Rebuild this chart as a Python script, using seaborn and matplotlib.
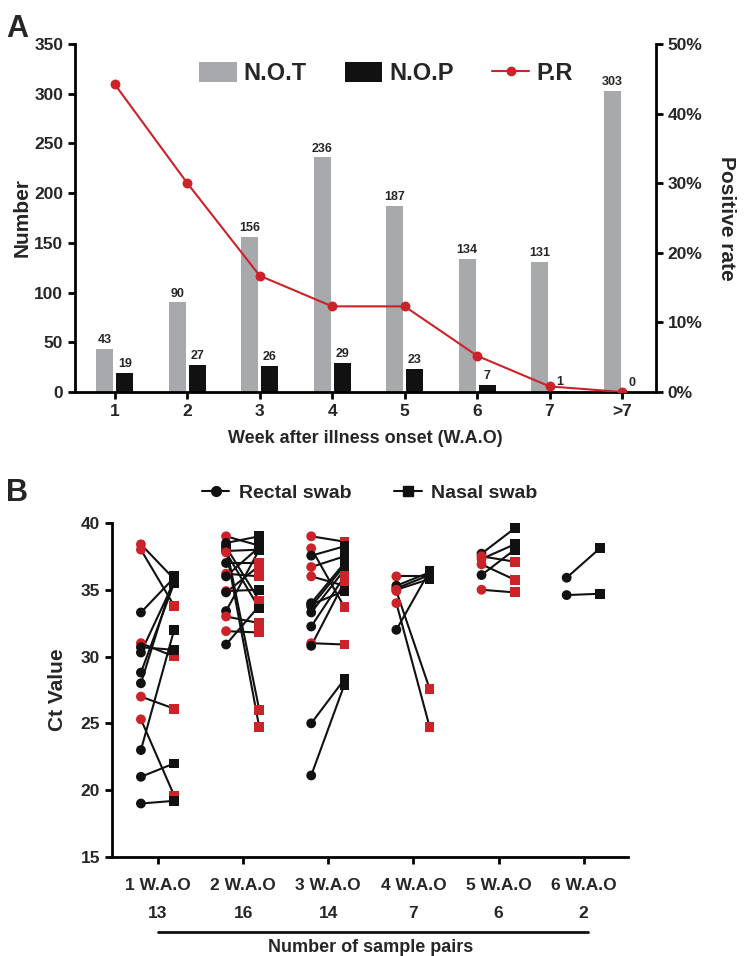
import numpy as np
import pandas as pd
import matplotlib
matplotlib.use("Agg")
import matplotlib.pyplot as plt
from matplotlib.patches import Patch
from matplotlib.lines import Line2D
from matplotlib.ticker import FuncFormatter
import seaborn as sns

# ---------------- Panel A data ----------------
weeks = ['1', '2', '3', '4', '5', '6', '7', '>7']
not_vals = [43, 90, 156, 236, 187, 134, 131, 303]
nop_vals = [19, 27, 26, 29, 23, 7, 1, 0]
pr_vals = [44.2, 30.0, 16.7, 12.3, 12.3, 5.2, 0.8, 0.0]

# ---------------- Panel B data ----------------
groups = ['1 W.A.O', '2 W.A.O', '3 W.A.O', '4 W.A.O', '5 W.A.O', '6 W.A.O']
pair_counts = [13, 16, 14, 7, 6, 2]

w1_rectal = [38.4, 38.0, 33.3, 31.0, 30.7, 30.3, 28.8, 28.0, 27.0, 25.3, 23.0, 21.0, 19.0]
w1_rectal_c = ['r', 'r', 'k', 'r', 'k', 'k', 'k', 'k', 'r', 'r', 'k', 'k', 'k']
w1_nasal = [35.8, 33.8, 35.9, 30.0, 30.5, 35.6, 35.5, 36.0, 26.1, 19.6, 32.0, 22.0, 19.2]
w1_nasal_c = ['k', 'r', 'k', 'r', 'k', 'k', 'k', 'k', 'r', 'r', 'k', 'k', 'k']

w2_rectal = [39.0, 38.5, 38.3, 38.0, 37.9, 37.0, 36.2, 36.0, 34.9, 34.8, 33.4, 33.0, 31.9, 30.9, 38.2, 37.8]
w2_rectal_c = ['r', 'k', 'k', 'r', 'k', 'k', 'r', 'k', 'r', 'k', 'k', 'r', 'r', 'k', 'k', 'r']
w2_nasal = [38.3, 39.0, 26.0, 24.7, 38.0, 37.0, 36.0, 38.2, 35.0, 36.8, 38.0, 32.5, 31.8, 33.8, 34.2, 33.6]
w2_nasal_c = ['k', 'k', 'r', 'r', 'k', 'r', 'r', 'k', 'k', 'r', 'k', 'r', 'r', 'k', 'r', 'k']

w3_rectal = [39.0, 38.1, 37.55, 36.7, 36.0, 34.0, 33.75, 33.3, 32.25, 31.0, 30.8, 25.0, 21.1, 33.9]
w3_rectal_c = ['r', 'r', 'k', 'r', 'r', 'k', 'k', 'k', 'k', 'r', 'k', 'k', 'k', 'k']
w3_nasal = [38.6, 33.7, 38.25, 37.5, 35.3, 37.0, 36.8, 36.5, 36.0, 30.9, 35.6, 28.3, 27.9, 34.9]
w3_nasal_c = ['r', 'r', 'k', 'k', 'r', 'k', 'k', 'k', 'r', 'r', 'r', 'k', 'k', 'k']

w4_rectal = [36.0, 35.3, 35.1, 34.9, 34.0, 32.0, 35.0]
w4_rectal_c = ['r', 'k', 'k', 'r', 'r', 'k', 'r']
w4_nasal = [36.0, 36.3, 36.1, 27.6, 24.75, 36.4, 35.8]
w4_nasal_c = ['k', 'k', 'k', 'r', 'r', 'k', 'k']

w5_rectal = [37.7, 37.3, 37.5, 36.9, 36.1, 35.0]
w5_rectal_c = ['k', 'r', 'r', 'r', 'k', 'r']
w5_nasal = [39.6, 38.4, 37.1, 35.75, 38.0, 34.8]
w5_nasal_c = ['k', 'k', 'r', 'r', 'k', 'r']

w6_rectal = [35.9, 34.6]
w6_rectal_c = ['k', 'k']
w6_nasal = [38.1, 34.7]
w6_nasal_c = ['k', 'k']

# ---------------- styling ----------------
sns.set_theme(style="ticks")
plt.rcParams['font.family'] = ['Liberation Sans', 'DejaVu Sans']
plt.rcParams['font.weight'] = 'bold'
plt.rcParams['axes.labelweight'] = 'bold'
NARROW = ['Liberation Sans Narrow', 'Liberation Sans', 'DejaVu Sans']
GRAY = '#a8a9ad'
BLACK = '#111111'
RED = '#cc2229'

fig = plt.figure(figsize=(7.49, 9.56), dpi=100)

# ================= Panel A =================
axA = fig.add_axes([0.1001, 0.590, 0.7758, 0.364])
dfA = pd.DataFrame({
    'week': weeks * 2,
    'value': not_vals + nop_vals,
    'series': ['N.O.T'] * len(weeks) + ['N.O.P'] * len(weeks),
})
sns.barplot(data=dfA, x='week', y='value', hue='series', order=weeks,
            hue_order=['N.O.T', 'N.O.P'], palette={'N.O.T': GRAY, 'N.O.P': BLACK},
            width=0.55, gap=0.15, saturation=1, legend=False, ax=axA,
            edgecolor='none')
for cont in axA.containers:
    axA.bar_label(cont, fontsize=9, fontweight='bold', padding=2,
                  family=NARROW)
axA.set_ylim(0, 350)
axA.set_yticks(range(0, 351, 50))
axA.set_xlim(-0.55, 7.47)
axA.set_ylabel('Number', fontsize=15, fontweight='bold', labelpad=2)
axA.set_xlabel('Week after illness onset (W.A.O)', fontsize=13, fontweight='bold', labelpad=8)

axR = axA.twinx()
dfP = pd.DataFrame({'week': weeks, 'pr': pr_vals})
sns.pointplot(data=dfP, x='week', y='pr', order=weeks, color=RED,
              markers='o', markersize=6, linewidth=1.5, ax=axR)
axR.set_ylim(0, 50)
axR.set_yticks(range(0, 51, 10))
axR.yaxis.set_major_formatter(FuncFormatter(lambda v, p: f'{int(v)}%'))
axR.set_xlim(-0.55, 7.47)
axR.set_ylabel('Positive rate', fontsize=15, fontweight='bold', rotation=-90, labelpad=24)

for ax in (axA, axR):
    for s in ['left', 'bottom', 'right']:
        ax.spines[s].set_linewidth(2)
        ax.spines[s].set_color('black')
    ax.spines['top'].set_visible(False)
    ax.tick_params(width=2, length=5, color='black', labelsize=12.5)
    for lab in ax.get_xticklabels() + ax.get_yticklabels():
        lab.set_fontfamily(NARROW)
        lab.set_fontweight('bold')
axA.spines['right'].set_visible(False)
axR.spines['left'].set_visible(False)
axR.spines['bottom'].set_visible(False)

handles = [Patch(facecolor=GRAY, edgecolor='none', label='N.O.T'),
           Patch(facecolor=BLACK, edgecolor='none', label='N.O.P'),
           Line2D([], [], color=RED, marker='o', markersize=6, lw=1.5, label='P.R')]
leg = axR.legend(handles=handles, loc='center', bbox_to_anchor=(0.535, 0.914), ncol=3,
                 frameon=False, handlelength=1.6, handleheight=0.9,
                 columnspacing=1.6, handletextpad=0.3,
                 prop={'family': NARROW, 'weight': 'bold', 'size': 17})

fig.text(0.008, 0.985, 'A', fontsize=22, fontweight='bold', va='top')

# ================= Panel B =================
axB = fig.add_axes([0.1495, 0.1036, 0.6889, 0.3494])
rows = []
pid = 0
wk_data = [(w1_rectal, w1_rectal_c, w1_nasal, w1_nasal_c),
           (w2_rectal, w2_rectal_c, w2_nasal, w2_nasal_c),
           (w3_rectal, w3_rectal_c, w3_nasal, w3_nasal_c),
           (w4_rectal, w4_rectal_c, w4_nasal, w4_nasal_c),
           (w5_rectal, w5_rectal_c, w5_nasal, w5_nasal_c),
           (w6_rectal, w6_rectal_c, w6_nasal, w6_nasal_c)]
for gi, (rv, rc, nv, nc) in enumerate(wk_data):
    for a, ca, b, cb in zip(rv, rc, nv, nc):
        rows.append({'pair': pid, 'x': gi - 0.2, 'ct': a, 'swab': 'Rectal swab', 'col': ca})
        rows.append({'pair': pid, 'x': gi + 0.19, 'ct': b, 'swab': 'Nasal swab', 'col': cb})
        pid += 1
dfB = pd.DataFrame(rows)

sns.lineplot(data=dfB, x='x', y='ct', units='pair', estimator=None, color=BLACK,
             lw=1.5, ax=axB, legend=False, sort=False)
sns.scatterplot(data=dfB, x='x', y='ct', hue='col', style='swab',
                palette={'k': BLACK, 'r': RED},
                markers={'Rectal swab': 'o', 'Nasal swab': 's'},
                s=50, linewidth=0, ax=axB, legend=False, zorder=3)

axB.set_ylim(15, 40)
axB.set_yticks(range(15, 41, 5))
axB.set_xlim(-0.54, 5.52)
axB.set_xticks(range(len(groups)))
axB.set_xticklabels(groups)
axB.set_xlabel('')
axB.set_ylabel('Ct Value', fontsize=15, fontweight='bold', labelpad=10)
sns.despine(ax=axB)
for s in ['left', 'bottom']:
    axB.spines[s].set_linewidth(2)
    axB.spines[s].set_color('black')
axB.tick_params(width=2, length=5, color='black', labelsize=12.5)
axB.tick_params(axis='x', pad=10)
for lab in axB.get_xticklabels() + axB.get_yticklabels():
    lab.set_fontfamily(NARROW)
    lab.set_fontweight('bold')

trans = axB.get_xaxis_transform()
for i, n in enumerate(pair_counts):
    axB.text(i, -0.17, str(n), transform=trans, ha='center', va='center',
             fontsize=12.5, fontweight='bold', family=NARROW, clip_on=False)
axB.plot([0, 5.05], [-0.225, -0.225], transform=trans, color=BLACK, lw=2, clip_on=False)
axB.text(2.5, -0.27, 'Number of sample pairs', transform=trans, ha='center', va='center',
         fontsize=13, fontweight='bold', family=NARROW, clip_on=False)

hB = [Line2D([], [], color=BLACK, marker='o', markersize=7, lw=1.5, label='Rectal swab'),
      Line2D([], [], color=BLACK, marker='s', markersize=7, lw=1.5, label='Nasal swab')]
axB.legend(handles=hB, loc='center', bbox_to_anchor=(0.5, 1.09), ncol=2, frameon=False,
           handlelength=1.4, columnspacing=2.2, handletextpad=0.5,
           prop={'weight': 'bold', 'size': 14})

fig.text(0.008, 0.5, 'B', fontsize=22, fontweight='bold', va='top')

fig.savefig('out.png', dpi=100)
